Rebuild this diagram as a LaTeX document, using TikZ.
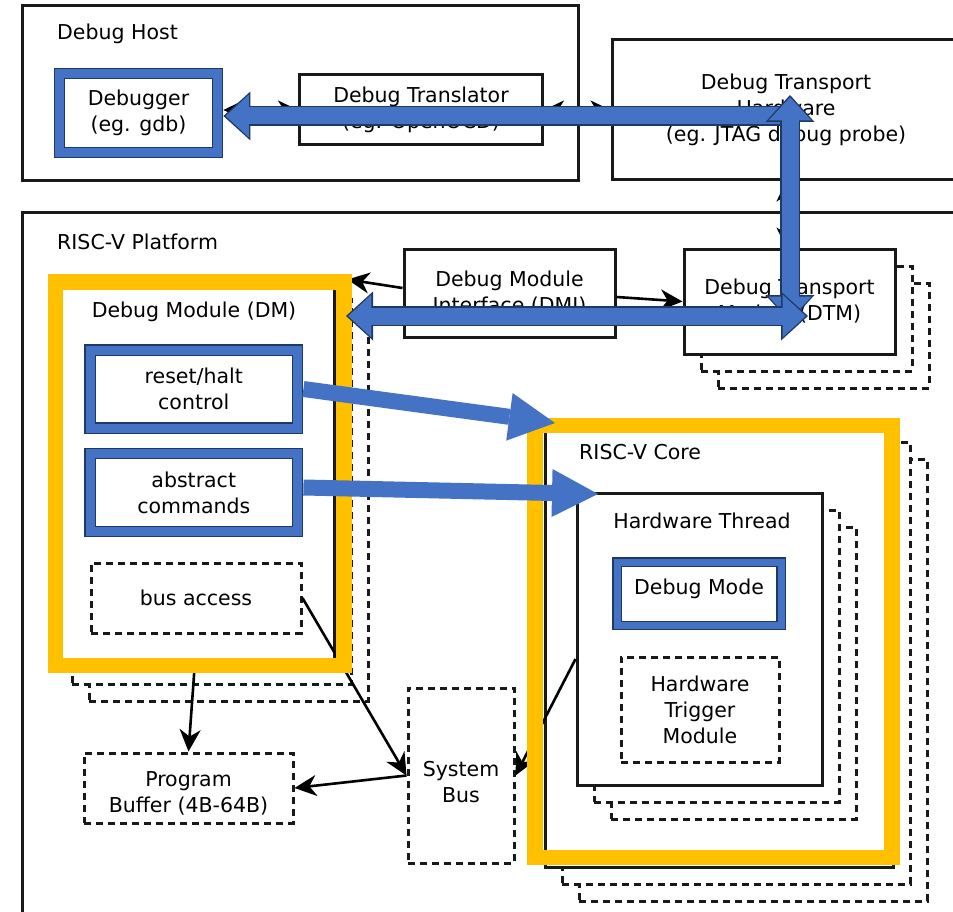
\documentclass[tikz,border=0pt]{standalone}
\usepackage{fontspec}
\setmainfont{DejaVu Sans}
\usetikzlibrary{arrows.meta, shadows, calc}
\definecolor{bluefill}{HTML}{4472C4}
\definecolor{navyline}{HTML}{1F3864}
\definecolor{hlyellow}{HTML}{FFC000}
\tikzset{
  box/.style={draw=black!90, line width=3pt, fill=white, align=center, inner sep=0pt},
  dbox/.style={box, dash pattern=on 7pt off 5pt},
  title/.style={anchor=west, inner sep=0pt},
  bbox/.style={draw=navyline, double=bluefill, double distance=9pt, line width=1.4pt, outer sep=5.9pt,
    fill=white, align=center, inner sep=0pt},
  stack/.style={
    copy shadow={shadow xshift=34pt, shadow yshift=-34pt, draw=black!90, fill=white, line width=3pt, dash pattern=on 7pt off 5pt},
    copy shadow={shadow xshift=17pt, shadow yshift=-17pt, draw=black!90, fill=white, line width=3pt, dash pattern=on 7pt off 5pt}},
  hilite/.style={draw=hlyellow, line width=15.5pt},
  arr/.style={-{Stealth[length=22pt,width=21pt,inset=7pt]}, line width=2.6pt},
  darr/.style={{Stealth[length=20pt,width=19pt,inset=6pt]}-{Stealth[length=20pt,width=19pt,inset=6pt]}, line width=2.6pt},
  fat/.style={draw=bluefill, line width=16pt, -{Triangle[length=46pt,width=48pt,line width=0pt]}},
  fatone/.style={draw=bluefill, line width=17pt, -{Triangle[length=23.2pt,width=42.8pt,line width=0pt]}, shorten >=2.2pt,
    preaction={draw=navyline, line width=20pt, -{Triangle[length=27pt,width=49pt,line width=0pt]}, shorten >=0pt}},
  fattwo/.style={draw=bluefill, line width=17pt,
    {Triangle[length=23.2pt,width=42.8pt,line width=0pt]}-{Triangle[length=23.2pt,width=42.8pt,line width=0pt]},
    shorten >=2.2pt, shorten <=2.2pt,
    preaction={draw=navyline, line width=20pt,
      {Triangle[length=27pt,width=49pt,line width=0pt]}-{Triangle[length=27pt,width=49pt,line width=0pt]},
      shorten >=0pt, shorten <=0pt}}
}

\begin{document}
\begin{tikzpicture}[x=1pt, y=-1pt, font=\fontsize{20.5}{26}\selectfont]
\useasboundingbox (0,0) rectangle (953,912);
% debug host side
\node[box, minimum width=556pt, minimum height=175pt] (host) at (300,93.5) {};
\node[title] (hostlbl) at (57,34) {Debug Host};
\node[bbox, minimum width=158pt, minimum height=79pt] (dbg) at (138.5,113) {Debugger\\(eg. gdb)};
\node[box, minimum width=243pt, minimum height=70pt] (trans) at (421,110) {Debug Translator\\(eg. OpenOCD)};
\node[box, minimum width=348pt, minimum height=140pt] (hw) at (786,110) {Debug Transport\\Hardware\\(eg. JTAG debug probe)};
% platform
\node[box, minimum width=938pt, minimum height=707pt] (plat) at (491,566.5) {};
\node[title] (platlbl) at (57,242) {RISC-V Platform};
\node[box, minimum width=211pt, minimum height=88pt] (dmi) at (509.5,293) {Debug Module\\Interface (DMI)};
\node[box, stack, minimum width=211pt, minimum height=105pt] (dtm) at (789.5,301.5) {Debug Transport\\Module (DTM)};
\node[box, stack, minimum width=279pt, minimum height=385pt] (dm) at (194.5,474.5) {};
\node (dmlbl) at (194,312) {Debug Module (DM)};
\node[bbox, minimum width=207.5pt, minimum height=78pt] (reset) at (193.75,389) {reset/halt\\control};
\node[bbox, minimum width=207.5pt, minimum height=78pt] (abs) at (193.75,492.5) {abstract\\commands};
\node[dbox, minimum width=210pt, minimum height=70pt] (bus) at (196,598) {bus access};
\node[dbox, minimum width=209pt, minimum height=70pt, text height=51pt] (pb) at (188.5,788) {Program\\Buffer (4B-64B)};
\node[dbox, minimum width=106pt, minimum height=175pt, text height=55pt] (sysbus) at (461,775.5) {System\\Bus};
% core
\node[box, stack, minimum width=348pt, minimum height=442pt] (core) at (719,646) {};
\node[title] (corelbl) at (579,452) {RISC-V Core};
\node[box, stack, minimum width=245pt, minimum height=292pt] (ht) at (699.5,639) {};
\node (htlbl) at (702,521) {Hardware Thread};
\node[bbox, double distance=7pt, outer sep=4.8pt, minimum width=164pt, minimum height=63.5pt] (dmode) at (699,593.75) {\raisebox{15pt}{Debug Mode}};
\node[dbox, minimum width=158pt, minimum height=105pt] (htm) at (700,709.5) {Hardware\\Trigger\\Module};
% plain connectors
\draw[darr] ([yshift=3pt]dbg.east) -- (trans.west);
\draw[darr] (trans.east) -- (hw.west);
\draw[darr] (hw.south) -- ([xshift=-3.5pt]dtm.north);
\draw[arr] ([yshift=5pt]dmi.west) -- ([xshift=12pt,yshift=1pt]dm.north east);
\draw[arr] ([yshift=-4pt]dmi.east) -- (dtm.west);
\draw[arr] (dm.south) -- (pb.north);
\draw[arr] (bus.east) -- (sysbus.west);
\draw[arr] (sysbus.west) -- (pb.east);
\draw[arr] ([yshift=-20pt]ht.west) -- (sysbus.east);
% highlights
\draw[hilite] (55.5,282) rectangle (344,665.5);
\draw[hilite] (535,425.5) rectangle (892,857.5);
% debug path
\coordinate (hwcorner) at (790,116);
\coordinate (vtop) at (790,95);
\coordinate (vbot) at (790,322);
\coordinate (dmtip) at (346,316);
\coordinate (dtmtip) at (808,316);
\coordinate (coretip) at (555,423);
\coordinate (httip) at (598,494);
\draw[fatone] (hwcorner) -- (hwcorner -| dbg.east);
\draw[fattwo] (vtop) -- (vbot);
\draw[fattwo] (dmtip) -- (dtmtip);
\draw[fat] (reset.east) -- (coretip);
\draw[fat] ([yshift=5pt]abs.east) -- (httip);
\end{tikzpicture}
\end{document}
